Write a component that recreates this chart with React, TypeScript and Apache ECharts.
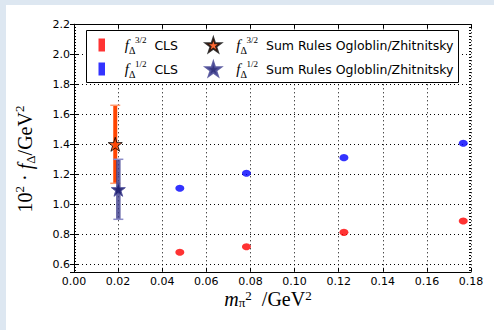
import React, { useEffect, useRef } from "react";
import * as echarts from "echarts";

// ---- data ----
const clsM2 = [0.048, 0.0782, 0.1224, 0.1765];
const f32CLS = [0.68, 0.717, 0.813, 0.889];
const f12CLS = [1.107, 1.207, 1.311, 1.407];
const srM2 = [0.0187, 0.0201];
const srF = [1.4, 1.1];
const srErr = [0.26, 0.2];
const xTickStep = 0.02;
const xMin = 0;
const xMax = 0.18;
const yMin = 0.55;
const yMax = 2.2;

const STAR =
  "path://M50,0 L61.8,36.2 L100,36.2 L69.1,58.8 L80.9,95.1 L50,72.7 L19.1,95.1 L30.9,58.8 L0,36.2 L38.2,36.2 Z";
const RECT = "path://M0,0 L6,0 L6,12 L0,12 Z";

const SERIF = "Liberation Serif";
const SANS = "DejaVu Sans";

const legendRich = {
  f: { fontFamily: SERIF, fontStyle: "italic", fontSize: 15, lineHeight: 20, color: "#000" },
  sub: { fontFamily: SERIF, fontSize: 10, verticalAlign: "bottom", lineHeight: 11, width: 3, color: "#000" },
  sup: { fontFamily: SERIF, fontSize: 9, verticalAlign: "top", lineHeight: 10, padding: [0, 4, 0, 3], color: "#000" },
  t: { fontFamily: SANS, fontSize: 12.5, lineHeight: 20, color: "#000" },
};

const legendText: Record<string, string> = {
  f32CLS: "{f|f}{sub|Δ}{sup|3/2}{t| CLS}",
  f12CLS: "{f|f}{sub|Δ}{sup|1/2}{t| CLS}",
  f32SR: "{f|f}{sub|Δ}{sup|3/2}{t| Sum Rules Ogloblin/Zhitnitsky}",
  f12SR: "{f|f}{sub|Δ}{sup|1/2}{t| Sum Rules Ogloblin/Zhitnitsky}",
};

const mathRichY = {
  n: { fontFamily: SERIF, fontSize: 20, lineHeight: 24, color: "#000" },
  i: { fontFamily: SERIF, fontStyle: "italic", fontSize: 20, lineHeight: 24, color: "#000" },
  sup: { fontFamily: SERIF, fontSize: 13, verticalAlign: "top", lineHeight: 13, color: "#000" },
  sub: { fontFamily: SERIF, fontSize: 13, verticalAlign: "bottom", lineHeight: 13, color: "#000" },
};

const mathRichX = {
  n: { fontFamily: SERIF, fontSize: 20, lineHeight: 20, color: "#000" },
  i: { fontFamily: SERIF, fontStyle: "italic", fontSize: 20, lineHeight: 20, color: "#000" },
  sup: { fontFamily: SERIF, fontSize: 13, verticalAlign: "top", lineHeight: 11, color: "#000" },
  sub: { fontFamily: SERIF, fontSize: 13, verticalAlign: "bottom", lineHeight: 11, color: "#000" },
};

const yTitle = "{n|10}{sup|2}{n| · }{i|f}{sub|Δ}{n|/GeV}{sup|2}";
const xTitle = "{i|m}{sub|π}{sup|2}{n|  /GeV}{sup|2}";

const GRID_MAIN = { left: 68, top: 19.3, width: 397, height: 247.5 };
// second grid only for the minor ticks, from 0.56 (a multiple of 0.02) to 2.2
const GRID_MINOR = { left: 68, top: 19.3, width: 397, height: 246 };

function errorBarRenderer(barColor: string, capColor: string, barWidth: number, opacity: number) {
  return (params: any, api: any) => {
    const x = api.value(0);
    const y = api.value(1);
    const e = api.value(2);
    const top = api.coord([x, y + e]);
    const bot = api.coord([x, y - e]);
    const cw = 5;
    return {
      type: "group",
      children: [
        {
          type: "line",
          shape: { x1: top[0], y1: top[1], x2: bot[0], y2: bot[1] },
          style: { stroke: barColor, lineWidth: barWidth, opacity },
        },
        {
          type: "line",
          shape: { x1: top[0] - cw, y1: top[1], x2: top[0] + cw, y2: top[1] },
          style: { stroke: capColor, lineWidth: 1.5 },
        },
        {
          type: "line",
          shape: { x1: bot[0] - cw, y1: bot[1], x2: bot[0] + cw, y2: bot[1] },
          style: { stroke: capColor, lineWidth: 1.5 },
        },
      ],
    };
  };
}

export default function App() {
  const ref = useRef<HTMLDivElement>(null);

  useEffect(() => {
    if (!ref.current) return;
    const chart = echarts.init(ref.current, undefined, { renderer: "svg" });

    const majorTickY = { inside: true, length: 4, lineStyle: { color: "#000", width: 1 } };
    const axisLineBlack = { show: true, lineStyle: { color: "#000", width: 1 } };
    const dotted = { show: true, lineStyle: { color: "#000", width: 1, type: [1, 3] } };

    const option: any = {
      animation: false,
      backgroundColor: "#fff",
      grid: [
        { ...GRID_MAIN, containLabel: false },
        { ...GRID_MINOR, containLabel: false },
      ],
      xAxis: [
        {
          type: "value",
          gridIndex: 0,
          position: "bottom",
          min: xMin,
          max: xMax,
          interval: xTickStep,
          axisLine: axisLineBlack,
          axisTick: { inside: true, length: 4, lineStyle: { color: "#000" } },
          axisLabel: {
            formatter: (v: number) => v.toFixed(2),
            color: "#000",
            fontFamily: SANS,
            fontSize: 11,
            margin: 4,
          },
          splitLine: dotted,
        },
        {
          type: "value",
          gridIndex: 0,
          position: "top",
          min: xMin,
          max: xMax,
          interval: xTickStep,
          axisLine: axisLineBlack,
          axisTick: { inside: true, length: 4, lineStyle: { color: "#000" } },
          axisLabel: { show: false },
          splitLine: { show: false },
        },
        {
          type: "value",
          gridIndex: 1,
          min: xMin,
          max: xMax,
          show: false,
        },
      ],
      yAxis: [
        {
          type: "value",
          gridIndex: 0,
          position: "left",
          min: yMin,
          max: yMax,
          splitNumber: 8,
          axisLine: axisLineBlack,
          axisTick: majorTickY,
          axisLabel: {
            formatter: (v: number) => (Math.abs(v - yMin) < 1e-6 ? "" : v.toFixed(1)),
            showMinLabel: false,
            color: "#000",
            fontFamily: SANS,
            fontSize: 11,
            margin: 4,
          },
          splitLine: dotted,
        },
        {
          type: "value",
          gridIndex: 0,
          position: "right",
          min: yMin,
          max: yMax,
          splitNumber: 8,
          axisLine: axisLineBlack,
          axisTick: majorTickY,
          axisLabel: { show: false },
          splitLine: { show: false },
        },
        {
          type: "value",
          gridIndex: 1,
          position: "left",
          min: 0.56,
          max: yMax,
          interval: 0.02,
          axisLine: { show: false },
          axisTick: { inside: true, length: 2, lineStyle: { color: "#000" } },
          axisLabel: { show: false },
          splitLine: { show: false },
        },
        {
          type: "value",
          gridIndex: 1,
          position: "right",
          min: 0.56,
          max: yMax,
          interval: 0.02,
          axisLine: { show: false },
          axisTick: { inside: true, length: 2, lineStyle: { color: "#000" } },
          axisLabel: { show: false },
          splitLine: { show: false },
        },
      ],
      legend: [
        {
          orient: "vertical",
          left: 92.5,
          top: 30,
          padding: 0,
          itemGap: 4,
          itemWidth: 36,
          itemHeight: 13,
          z: 10,
          selectedMode: false,
          data: [
            { name: "f32CLS", icon: RECT },
            { name: "f12CLS", icon: RECT },
          ],
          formatter: (name: string) => legendText[name],
          textStyle: { rich: legendRich },
        },
        {
          orient: "vertical",
          left: 199,
          top: 30,
          padding: 0,
          itemGap: 4,
          itemWidth: 36,
          itemHeight: 14,
          z: 10,
          selectedMode: false,
          data: [
            { name: "f32SR", icon: STAR },
            { name: "f12SR", icon: STAR },
          ],
          formatter: (name: string) => legendText[name],
          textStyle: { rich: legendRich },
        },
      ],
      graphic: [
        {
          type: "rect",
          z: 8,
          shape: { x: 80.5, y: 25.5, width: 372, height: 52 },
          style: { fill: "#fff", stroke: "#000", lineWidth: 1 },
        },
        {
          type: "text",
          z: 10,
          x: 19,
          y: 154,
          rotation: Math.PI / 2,
          style: { text: yTitle, rich: mathRichY, align: "center", verticalAlign: "middle" },
        },
        {
          type: "text",
          z: 10,
          x: 262,
          y: 294,
          style: { text: xTitle, rich: mathRichX, align: "center", verticalAlign: "middle" },
        },
      ],
      series: [
        {
          name: "f32CLS",
          type: "scatter",
          xAxisIndex: 0,
          yAxisIndex: 0,
          symbol: "circle",
          symbolSize: [9, 7],
          itemStyle: { color: "#ff0000" },
          data: clsM2.map((x, i) => [x, f32CLS[i]]),
          z: 3,
        },
        {
          name: "f12CLS",
          type: "scatter",
          xAxisIndex: 0,
          yAxisIndex: 0,
          symbol: "circle",
          symbolSize: [9, 7],
          itemStyle: { color: "#0000ff" },
          data: clsM2.map((x, i) => [x, f12CLS[i]]),
          z: 3,
        },
        {
          name: "errSR32",
          type: "custom",
          xAxisIndex: 0,
          yAxisIndex: 0,
          silent: true,
          renderItem: errorBarRenderer("#ff4500", "#ff9a70", 4, 1),
          data: [[srM2[0], srF[0], srErr[0]]],
          encode: { x: 0, y: 1 },
          z: 3,
        },
        {
          name: "errSR12",
          type: "custom",
          xAxisIndex: 0,
          yAxisIndex: 0,
          silent: true,
          renderItem: errorBarRenderer("#3c3c8c", "#8c8cc8", 4.5, 0.8),
          data: [[srM2[1], srF[1], srErr[1]]],
          encode: { x: 0, y: 1 },
          z: 4,
        },
        {
          name: "f32SR",
          type: "scatter",
          xAxisIndex: 0,
          yAxisIndex: 0,
          symbol: STAR,
          symbolSize: 14,
          itemStyle: { color: "#ff4500", borderColor: "#000", borderWidth: 1 },
          data: [[srM2[0], srF[0]]],
          z: 5,
        },
        {
          name: "f12SR",
          type: "scatter",
          xAxisIndex: 0,
          yAxisIndex: 0,
          symbol: STAR,
          symbolSize: 14,
          itemStyle: { color: "#1e1e70", borderColor: "#50509a", borderWidth: 1, opacity: 0.9 },
          data: [[srM2[1], srF[1]]],
          z: 5,
        },
      ],
    };

    chart.setOption(option);
    return () => chart.dispose();
  }, []);

  return (
    <div
      style={{
        position: "fixed",
        left: 0,
        top: 0,
        width: 494,
        height: 330,
        background: "#dde7f1",
      }}
    >
      <div
        ref={ref}
        style={{
          position: "absolute",
          left: 6,
          top: 5,
          width: 488,
          height: 325,
          background: "#fff",
        }}
      />
    </div>
  );
}
